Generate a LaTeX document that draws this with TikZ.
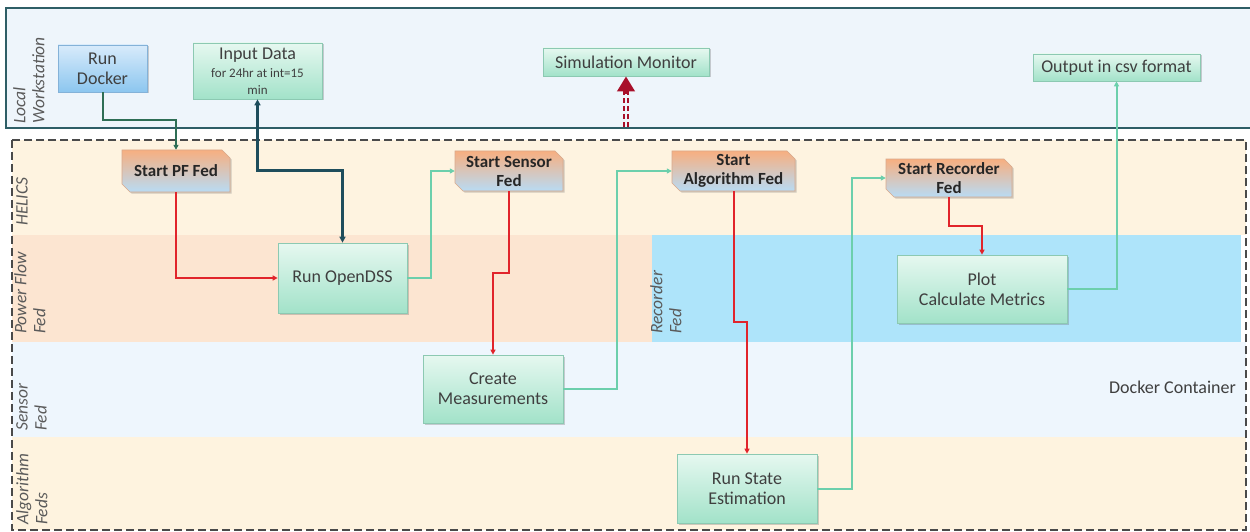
\documentclass[tikz,border=0pt]{standalone}
\usepackage{fontspec}
\setmainfont{Carlito}
\usetikzlibrary{arrows.meta,shadows}
\definecolor{wsfill}{HTML}{EEF5FB}
\definecolor{wsline}{HTML}{2E5E66}
\definecolor{helics}{HTML}{FEF3E0}
\definecolor{pflane}{HTML}{FCE5D1}
\definecolor{reclane}{HTML}{AEE4FA}
\definecolor{senslane}{HTML}{EEF6FD}
\definecolor{algolane}{HTML}{FEF3DF}
\definecolor{dashgray}{HTML}{4A4A4A}
\definecolor{lblgray}{HTML}{5A5A5A}
\definecolor{txt}{HTML}{3F3F3F}
\definecolor{gtop}{HTML}{E6F8F0}
\definecolor{gbot}{HTML}{A2E2C9}
\definecolor{gline}{HTML}{8CC9B2}
\definecolor{btop}{HTML}{D8EBFB}
\definecolor{bbot}{HTML}{8CC6EF}
\definecolor{bline}{HTML}{84B2D8}
\definecolor{otop}{HTML}{F7AF80}
\definecolor{obot}{HTML}{B8DBF4}
\definecolor{oline}{HTML}{D9A98C}
\definecolor{cred}{HTML}{E1242B}
\definecolor{cteal}{HTML}{6CCFAC}
\definecolor{cdkgreen}{HTML}{2E6E55}
\definecolor{cnavy}{HTML}{1E4D5C}
\definecolor{simred}{HTML}{A8102A}
\tikzset{
  shd/.style={drop shadow={shadow xshift=1.5pt,shadow yshift=-1.5pt,opacity=0.3,fill=black!60}},
  box/.style={shd, line width=0.7pt, font=\fontsize{18}{20}\selectfont, text=txt, align=center, inner sep=0pt},
  greenbox/.style={box, draw=gline, top color=gtop, bottom color=gbot},
  bluebox/.style={box, draw=bline, top color=btop, bottom color=bbot},
  startfill/.style={shd, draw=oline, line width=0.6pt, top color=otop, bottom color=obot},
  startbox/.style={font=\bfseries\fontsize{17}{19}\selectfont, text=black!85, align=center, inner sep=0pt},
  lane/.style={font=\itshape\fontsize{17.5}{19}\selectfont, text=lblgray, rotate=90, anchor=north west, align=left, inner sep=0pt},
  tip/.style={-{Triangle[length=5pt,width=5pt]}},
  redline/.style={tip, draw=cred, line width=2pt},
  tealline/.style={tip, draw=cteal, line width=2pt},
}
\newcommand\startshape[4]{%
  \path[startfill] (#1,#2) -- (#3-8,#2) -- (#3,#2+8) -- (#3,#4) -- (#1+8,#4) -- (#1,#4-8) -- cycle;}
\begin{document}
\begin{tikzpicture}[x=1pt,y=-1pt]
\useasboundingbox (0,0) rectangle (1250,532);
% local workstation area
\fill[wsfill] (6,8) rectangle (1250,128);
\draw[wsline, line width=2pt] (1250,8) -- (6,8) -- (6,128) -- (1250,128);
% lanes
\fill[white] (12,140) rectangle (1246,530);
\fill[helics] (12,140) rectangle (1246,235);
\fill[pflane] (12,235) rectangle (652,342);
\fill[reclane] (652,235) rectangle (1241,342);
\fill[senslane] (12,342) rectangle (1246,437);
\fill[algolane] (12,437) rectangle (1246,530);
\draw[dashgray, line width=2.5pt, dash pattern=on 8pt off 4pt] (12,140) rectangle (1246,530);
% lane labels
\node[lane] (lws) at (13,124) {Local\\\hspace*{0pt}Workstation};
\node[lane] (lhel) at (16,226) {HELICS};
\node[lane] (lpf) at (14,334) {Power Flow\\Fed};
\node[lane] (lrec) at (650,334) {Recorder\\Fed};
\node[lane] (lsen) at (16,431) {Sensor\\Fed};
\node[lane] (lalg) at (16,525) {Algorithm\\Feds};
\node[anchor=east, font=\fontsize{18}{20}\selectfont, text=txt, inner sep=0pt] (dc) at (1236,387) {Docker Container};
% workstation boxes
\node[bluebox, minimum width=89pt, minimum height=47pt] (docker) at (102.5,68.5) {Run\\Docker};
\node[greenbox, minimum width=129pt, minimum height=56pt] (input) at (257.5,71) {Input Data\\[-2pt]{\fontsize{13}{14}\selectfont for 24hr at int=15}\\[-3pt]{\fontsize{13}{14}\selectfont min}};
\node[greenbox, minimum width=166pt, minimum height=28pt] (simmon) at (626,62) {Simulation Monitor};
\node[greenbox, minimum width=167pt, minimum height=27pt] (output) at (1116.5,67.5) {Output in csv format};
% start boxes
\startshape{122}{150}{230}{192}
\node[startbox, minimum width=108pt, minimum height=42pt] (pf) at (176,171) {Start PF Fed};
\startshape{455}{151}{563}{191}
\node[startbox, minimum width=108pt, minimum height=40pt] (sensor) at (509,171) {Start Sensor\\Fed};
\startshape{672}{151}{795}{191}
\node[startbox, minimum width=123pt, minimum height=40pt] (algo) at (733.5,171) {Start\\Algorithm Fed};
\startshape{886}{159}{1012}{197}
\node[startbox, minimum width=126pt, minimum height=38pt] (recorder) at (949,178) {Start Recorder\\Fed};
% process boxes
\node[greenbox, minimum width=129pt, minimum height=70pt] (opendss) at (342.5,278) {Run OpenDSS};
\node[greenbox, minimum width=170pt, minimum height=68pt] (plot) at (982,289) {Plot\\Calculate Metrics};
\node[greenbox, minimum width=140pt, minimum height=68pt] (meas) at (493,389) {Create\\Measurements};
\node[greenbox, minimum width=140pt, minimum height=69pt] (state) at (747,488.5) {Run State\\Estimation};
% connectors
\draw[tip, cdkgreen, line width=2pt] (docker.south) -- ++(0,27.5) -| (pf.north);
\draw[{Triangle[length=6pt,width=6pt]}-{Triangle[length=6pt,width=6pt]}, cnavy, line width=2.5pt] (input.south) -- ++(0,71) -| (opendss.north);
\draw[redline] (pf.south) |- (opendss.west);
\draw[tealline] (opendss.east) -- ++(24,0) |- (sensor.west);
\draw[redline] (sensor.south) -- ++(0,82) -| (meas.north);
\draw[tealline] (meas.east) -- ++(54,0) |- (algo.west);
\draw[redline] (algo.south) -- ++(0,131) -| (state.north);
\draw[tealline] (state.east) -- ++(35,0) |- (recorder.west);
\draw[redline] (recorder.south) -- ++(0,29) -| (plot.north);
\draw[tealline] (plot.east) -| (output.south);
\coordinate (simsrc) at (626,127);
\draw[simred, line width=5.5pt, dash pattern=on 5pt off 3pt, -{Triangle[length=15pt,width=17pt]}] (simsrc) -- (simmon.south);
\draw[wsfill, line width=1.5pt] (simsrc) -- (626,94);
\end{tikzpicture}
\end{document}
